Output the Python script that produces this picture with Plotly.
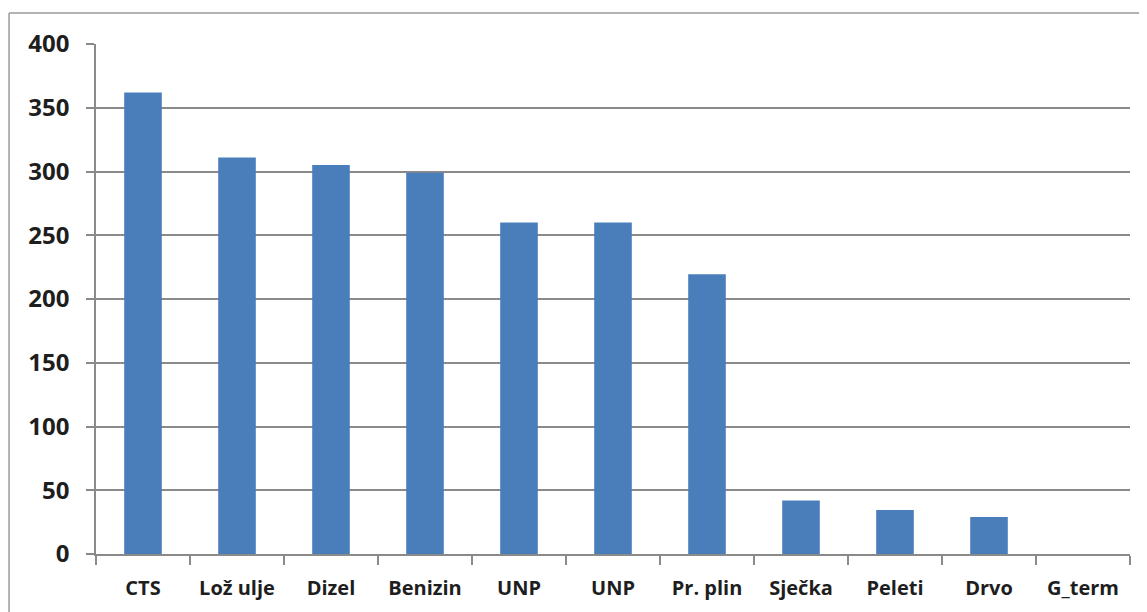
import plotly.graph_objects as go

categories = ["CTS", "Lož ulje", "Dizel", "Benizin", "UNP", "UNP", "Pr. plin",
              "Sječka", "Peleti", "Drvo", "G_term"]
values = [362, 311, 305, 299, 260, 260, 219.5, 42, 34.5, 29, 0]
y_ticks = [0, 50, 100, 150, 200, 250, 300, 350, 400]

# numeric positions, because "UNP" appears twice
positions = list(range(len(categories)))

GRID = "#8a8a8a"
TEXT = "#1e1e1e"

fig = go.Figure()
fig.add_trace(
    go.Bar(
        x=positions,
        y=values,
        marker_color="#4a7ebb",
        marker_line_width=0,
        hovertemplate="%{y}<extra></extra>",
    )
)

# page body adds an 8px offset, so the figure is a bit smaller than the window
fig.update_layout(
    width=1139,
    height=604,
    margin=dict(l=88, r=17, t=36, b=58),
    paper_bgcolor="white",
    plot_bgcolor="white",
    bargap=0.6,
    showlegend=False,
    font=dict(family="Open Sans, Lato, sans-serif", color=TEXT),
)

fig.update_xaxes(
    range=[-0.5, len(categories) - 0.5],
    tickmode="array",
    tickvals=positions,
    ticktext=categories,
    ticks="",
    tickfont=dict(size=20, weight="bold", color=TEXT),
    ticklabelstandoff=15,
    showgrid=False,
    showline=True,
    linecolor=GRID,
    linewidth=1.5,
    zeroline=False,
    minor=dict(
        tickmode="linear",
        tick0=0.5,
        dtick=1,
        ticks="outside",
        ticklen=9,
        tickcolor=GRID,
        tickwidth=1.5,
        showgrid=False,
    ),
)

fig.update_yaxes(
    range=[0, 400],
    tickmode="array",
    tickvals=y_ticks,
    ticks="outside",
    ticklen=8,
    tickcolor=GRID,
    tickwidth=1.5,
    tickfont=dict(size=24, weight="bold", color=TEXT),
    ticklabelstandoff=12,
    showgrid=True,
    gridcolor=GRID,
    gridwidth=1.5,
    showline=True,
    linecolor=GRID,
    linewidth=1.5,
    zeroline=False,
)

# outer chart frame (only the top and left edges are visible in the crop)
fig.add_shape(type="line", xref="paper", yref="paper",
              x0=-0.0841, x1=1.1, y0=1.0607, y1=1.0607,
              line=dict(color="#9a9a9a", width=1.5))
fig.add_shape(type="line", xref="paper", yref="paper",
              x0=-0.0841, x1=-0.0841, y0=1.0607, y1=-0.2,
              line=dict(color="#9a9a9a", width=1.5))

fig.write_html("out.html")
